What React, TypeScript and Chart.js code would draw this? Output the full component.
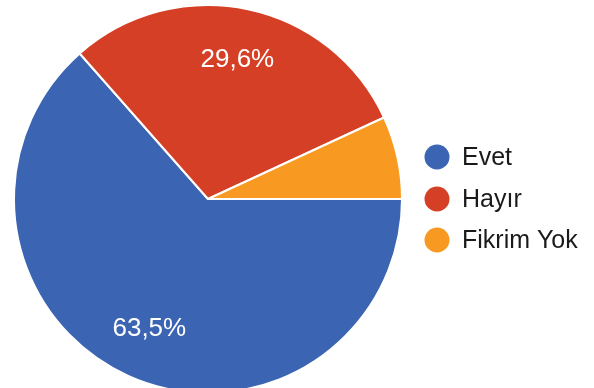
import React, { useEffect, useRef } from "react";
import { Chart, registerables } from "chart.js";

Chart.register(...registerables);

const categories = ["Evet", "Hayır", "Fikrim Yok"];
const values = [63.5, 29.6, 6.9];
const labelsShown = ["63,5%", "29,6%", ""];
const colors = ["#3b64b2", "#d43f26", "#f89a21"];

const FONT = '"Liberation Sans", Arial, sans-serif';

const overlayPlugin = {
  id: "overlay",
  afterDraw(chart: any) {
    const ctx = chart.ctx;
    const meta = chart.getDatasetMeta(0);
    ctx.save();
    // slice labels
    ctx.fillStyle = "#ffffff";
    ctx.font = `26px ${FONT}`;
    ctx.textAlign = "center";
    ctx.textBaseline = "middle";
    meta.data.forEach((arc: any, i: number) => {
      const txt = labelsShown[i];
      if (!txt) return;
      const p = arc.getProps(["x", "y", "startAngle", "endAngle", "outerRadius"], true);
      const mid = (p.startAngle + p.endAngle) / 2;
      const r = p.outerRadius * 0.735;
      ctx.fillText(txt, p.x + Math.cos(mid) * r, p.y + Math.sin(mid) * r);
    });
    // legend
    const cx = 437;
    const ys = [157, 199, 240];
    ctx.textAlign = "left";
    ctx.font = `25px ${FONT}`;
    categories.forEach((c, i) => {
      ctx.fillStyle = colors[i];
      ctx.beginPath();
      ctx.arc(cx, ys[i], 12.5, 0, Math.PI * 2);
      ctx.fill();
      ctx.fillStyle = "#1a1a1a";
      ctx.fillText(c, 462, ys[i] + 1);
    });
    ctx.restore();
  },
};

export default function App() {
  const ref = useRef<HTMLCanvasElement>(null);
  useEffect(() => {
    document.body.style.margin = "0";
    const chart = new Chart(ref.current as HTMLCanvasElement, {
      type: "pie",
      data: {
        labels: categories,
        datasets: [
          {
            data: values,
            backgroundColor: colors,
            borderColor: "#ffffff",
            borderWidth: 2,
          },
        ],
      },
      options: {
        responsive: false,
        animation: false,
        rotation: 90,
        events: [],
        layout: { padding: { left: 13, right: 191, top: 4, bottom: 6 } },
        plugins: {
          legend: { display: false },
          tooltip: { enabled: false },
        },
      },
      plugins: [overlayPlugin],
    });
    return () => chart.destroy();
  }, []);
  return (
    <div
      style={{
        position: "absolute",
        left: 0,
        top: 0,
        width: 594,
        height: 388,
        overflow: "hidden",
        background: "#ffffff",
      }}
    >
      <canvas ref={ref} width={594} height={400} style={{ width: 594, height: 400, display: "block" }} />
    </div>
  );
}
